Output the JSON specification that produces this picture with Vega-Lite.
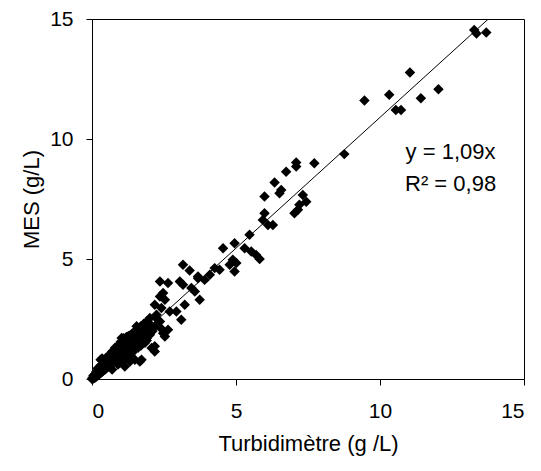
{
  "$schema": "https://vega.github.io/schema/vega-lite/v6.json",
  "width": 432,
  "height": 360,
  "autosize": {"type": "none"},
  "padding": {"left": 92, "top": 19, "right": 17, "bottom": 92},
  "background": "white",
  "config": {
    "view": {"stroke": "black", "strokeWidth": 1},
    "font": "Liberation Sans",
    "axis": {
      "grid": false,
      "domainColor": "black",
      "tickColor": "black",
      "tickSize": 6,
      "labelFontSize": 21,
      "titleFontSize": 22,
      "labelColor": "black",
      "titleColor": "black",
      "titleFontWeight": "normal",
      "labelFont": "Liberation Sans",
      "titleFont": "Liberation Sans"
    }
  },
  "datasets": {
    "points": [
      {"x": 0.0, "y": 0.0}, {"x": 0.02, "y": 0.05}, {"x": 0.05, "y": 0.02}, {"x": 0.08, "y": 0.1}, {"x": 0.1, "y": 0.05},
      {"x": 0.12, "y": 0.18}, {"x": 0.15, "y": 0.1}, {"x": 0.18, "y": 0.25}, {"x": 0.2, "y": 0.15}, {"x": 0.22, "y": 0.3},
      {"x": 0.25, "y": 0.2}, {"x": 0.28, "y": 0.35}, {"x": 0.3, "y": 0.25}, {"x": 0.32, "y": 0.45}, {"x": 0.35, "y": 0.3},
      {"x": 0.38, "y": 0.5}, {"x": 0.4, "y": 0.35}, {"x": 0.42, "y": 0.55}, {"x": 0.45, "y": 0.4}, {"x": 0.48, "y": 0.6},
      {"x": 0.5, "y": 0.45}, {"x": 0.52, "y": 0.65}, {"x": 0.55, "y": 0.5}, {"x": 0.58, "y": 0.7}, {"x": 0.6, "y": 0.55},
      {"x": 0.62, "y": 0.8}, {"x": 0.65, "y": 0.6}, {"x": 0.68, "y": 0.85}, {"x": 0.7, "y": 0.65}, {"x": 0.72, "y": 0.9},
      {"x": 0.75, "y": 0.7}, {"x": 0.78, "y": 0.95}, {"x": 0.8, "y": 0.75}, {"x": 0.82, "y": 1.0}, {"x": 0.85, "y": 0.8},
      {"x": 0.88, "y": 1.1}, {"x": 0.9, "y": 0.85}, {"x": 0.92, "y": 1.15}, {"x": 0.95, "y": 0.9}, {"x": 0.98, "y": 1.2},
      {"x": 1.0, "y": 0.95}, {"x": 1.02, "y": 1.3}, {"x": 1.05, "y": 1.05}, {"x": 1.08, "y": 1.35}, {"x": 1.1, "y": 1.1},
      {"x": 1.12, "y": 1.45}, {"x": 1.15, "y": 1.2}, {"x": 1.18, "y": 1.5}, {"x": 1.2, "y": 1.25}, {"x": 1.25, "y": 1.6},
      {"x": 1.3, "y": 1.4}, {"x": 1.35, "y": 1.7}, {"x": 1.4, "y": 1.5}, {"x": 1.45, "y": 1.8}, {"x": 1.5, "y": 1.6},
      {"x": 1.55, "y": 1.9}, {"x": 1.6, "y": 1.7}, {"x": 1.65, "y": 1.85}, {"x": 1.7, "y": 2.0}, {"x": 0.3, "y": 0.8},
      {"x": 0.35, "y": 0.85}, {"x": 0.5, "y": 0.9}, {"x": 0.6, "y": 1.0}, {"x": 0.8, "y": 1.3}, {"x": 0.9, "y": 1.4},
      {"x": 1.0, "y": 1.55}, {"x": 1.1, "y": 1.7}, {"x": 0.7, "y": 0.4}, {"x": 0.9, "y": 0.6}, {"x": 1.1, "y": 0.8},
      {"x": 1.2, "y": 0.9}, {"x": 1.3, "y": 1.0}, {"x": 1.4, "y": 1.1}, {"x": 1.0, "y": 0.7}, {"x": 0.15, "y": 0.3},
      {"x": 0.25, "y": 0.4}, {"x": 0.05, "y": 0.15}, {"x": 0.1, "y": 0.2}, {"x": 0.45, "y": 0.7}, {"x": 0.55, "y": 0.75},
      {"x": 0.65, "y": 0.95}, {"x": 0.75, "y": 1.05}, {"x": 0.85, "y": 1.2}, {"x": 0.95, "y": 1.35}, {"x": 1.05, "y": 1.5},
      {"x": 1.15, "y": 1.6}, {"x": 1.2, "y": 1.75}, {"x": 1.3, "y": 1.8}, {"x": 1.4, "y": 1.9}, {"x": 1.5, "y": 2.0},
      {"x": 1.55, "y": 2.2}, {"x": 1.7, "y": 2.2}, {"x": 1.8, "y": 2.3}, {"x": 1.9, "y": 2.4}, {"x": 2.0, "y": 2.3},
      {"x": 1.85, "y": 2.1}, {"x": 1.75, "y": 1.9}, {"x": 1.6, "y": 1.5}, {"x": 1.5, "y": 1.35}, {"x": 1.45, "y": 1.2},
      {"x": 1.6, "y": 1.3}, {"x": 1.7, "y": 1.4}, {"x": 1.8, "y": 1.55}, {"x": 1.9, "y": 1.7}, {"x": 2.0, "y": 1.9},
      {"x": 2.1, "y": 2.0}, {"x": 1.84, "y": 1.51}, {"x": 2.07, "y": 1.29}, {"x": 1.49, "y": 0.8}, {"x": 1.66, "y": 0.73},
      {"x": 2.53, "y": 1.77}, {"x": 1.14, "y": 0.52}, {"x": 2.18, "y": 1.15}, {"x": 2.18, "y": 1.36}, {"x": 1.72, "y": 0.8},
      {"x": 1.32, "y": 0.73}, {"x": 1.03, "y": 1.71}, {"x": 1.26, "y": 1.78}, {"x": 1.6, "y": 2.0}, {"x": 1.9, "y": 1.6},
      {"x": 2.4, "y": 2.1}, {"x": 2.26, "y": 2.5},
      {"x": 0.4, "y": 0.6}, {"x": 0.6, "y": 0.75}, {"x": 0.8, "y": 1.05}, {"x": 1.0, "y": 1.25}, {"x": 1.25, "y": 1.45},
      {"x": 0.3, "y": 0.55}, {"x": 0.7, "y": 1.15}, {"x": 1.35, "y": 1.25}, {"x": 0.2, "y": 0.45}, {"x": 1.15, "y": 0.95},
      {"x": 3.16, "y": 4.76}, {"x": 3.39, "y": 4.52}, {"x": 3.68, "y": 4.27}, {"x": 4.09, "y": 4.34}, {"x": 4.26, "y": 4.62},
      {"x": 2.36, "y": 4.06}, {"x": 2.64, "y": 4.0}, {"x": 3.05, "y": 4.06}, {"x": 3.16, "y": 3.93}, {"x": 3.45, "y": 3.79},
      {"x": 3.57, "y": 3.65}, {"x": 2.47, "y": 3.58}, {"x": 2.36, "y": 3.44}, {"x": 2.53, "y": 3.3}, {"x": 3.22, "y": 3.09},
      {"x": 3.74, "y": 3.3}, {"x": 2.18, "y": 3.09}, {"x": 2.41, "y": 2.96}, {"x": 2.7, "y": 2.81}, {"x": 2.93, "y": 2.81},
      {"x": 2.24, "y": 2.68}, {"x": 2.01, "y": 2.54}, {"x": 3.1, "y": 2.47}, {"x": 2.36, "y": 2.4}, {"x": 2.18, "y": 2.19},
      {"x": 2.64, "y": 2.05}, {"x": 1.84, "y": 2.12}, {"x": 1.55, "y": 1.91}, {"x": 2.47, "y": 1.91}, {"x": 2.01, "y": 1.84},
      {"x": 5.47, "y": 6.01}, {"x": 4.55, "y": 5.45}, {"x": 4.95, "y": 5.66}, {"x": 5.3, "y": 5.45}, {"x": 5.53, "y": 5.31},
      {"x": 5.7, "y": 5.17}, {"x": 5.82, "y": 5.0}, {"x": 4.89, "y": 4.97}, {"x": 5.01, "y": 4.83}, {"x": 4.78, "y": 4.76},
      {"x": 4.95, "y": 4.48}, {"x": 4.43, "y": 4.55}, {"x": 3.91, "y": 4.13}, {"x": 3.68, "y": 4.2},
      {"x": 7.72, "y": 8.99}, {"x": 7.09, "y": 9.02}, {"x": 7.09, "y": 8.85}, {"x": 6.74, "y": 8.64}, {"x": 6.34, "y": 8.19},
      {"x": 6.57, "y": 7.88}, {"x": 6.51, "y": 7.74}, {"x": 5.99, "y": 7.6}, {"x": 7.32, "y": 7.67}, {"x": 7.44, "y": 7.39},
      {"x": 7.2, "y": 7.26}, {"x": 7.15, "y": 7.05}, {"x": 7.03, "y": 6.91}, {"x": 5.99, "y": 6.91}, {"x": 5.93, "y": 6.63},
      {"x": 6.11, "y": 6.42}, {"x": 6.28, "y": 6.42},
      {"x": 8.76, "y": 9.37}, {"x": 9.46, "y": 11.6}, {"x": 10.32, "y": 11.84}, {"x": 10.55, "y": 11.21}, {"x": 10.73, "y": 11.21},
      {"x": 11.04, "y": 12.77}, {"x": 11.42, "y": 11.7}, {"x": 12.03, "y": 12.07}, {"x": 13.27, "y": 14.54}, {"x": 13.35, "y": 14.4},
      {"x": 13.69, "y": 14.44}
    ],
    "trend": [
      {"x": 0, "y": 0},
      {"x": 13.76, "y": 15}
    ],
    "labels": [
      {"x": 12.45, "y": 9.46, "label": "y = 1,09x"},
      {"x": 12.45, "y": 8.13, "label": "R² = 0,98"}
    ]
  },
  "encoding": {
    "x": {
      "field": "x",
      "type": "quantitative",
      "scale": {"domain": [0, 15], "nice": false},
      "axis": {"title": "Turbidimètre (g /L)", "values": [0, 5, 10, 15], "labelPadding": 15, "titlePadding": 12}
    },
    "y": {
      "field": "y",
      "type": "quantitative",
      "scale": {"domain": [0, 15], "nice": false},
      "axis": {"title": "MES (g/L)", "values": [0, 5, 10, 15], "labelPadding": 13, "titlePadding": 6}
    }
  },
  "layer": [
    {
      "data": {"name": "trend"},
      "mark": {"type": "line", "color": "black", "strokeWidth": 1, "clip": true}
    },
    {
      "data": {"name": "points"},
      "mark": {"type": "point", "shape": "diamond", "filled": true, "color": "black", "size": 110, "opacity": 1}
    },
    {
      "data": {"name": "labels"},
      "mark": {"type": "text", "fontSize": 22, "color": "black", "align": "center", "baseline": "middle", "font": "Liberation Sans"},
      "encoding": {"text": {"field": "label"}}
    }
  ]
}
